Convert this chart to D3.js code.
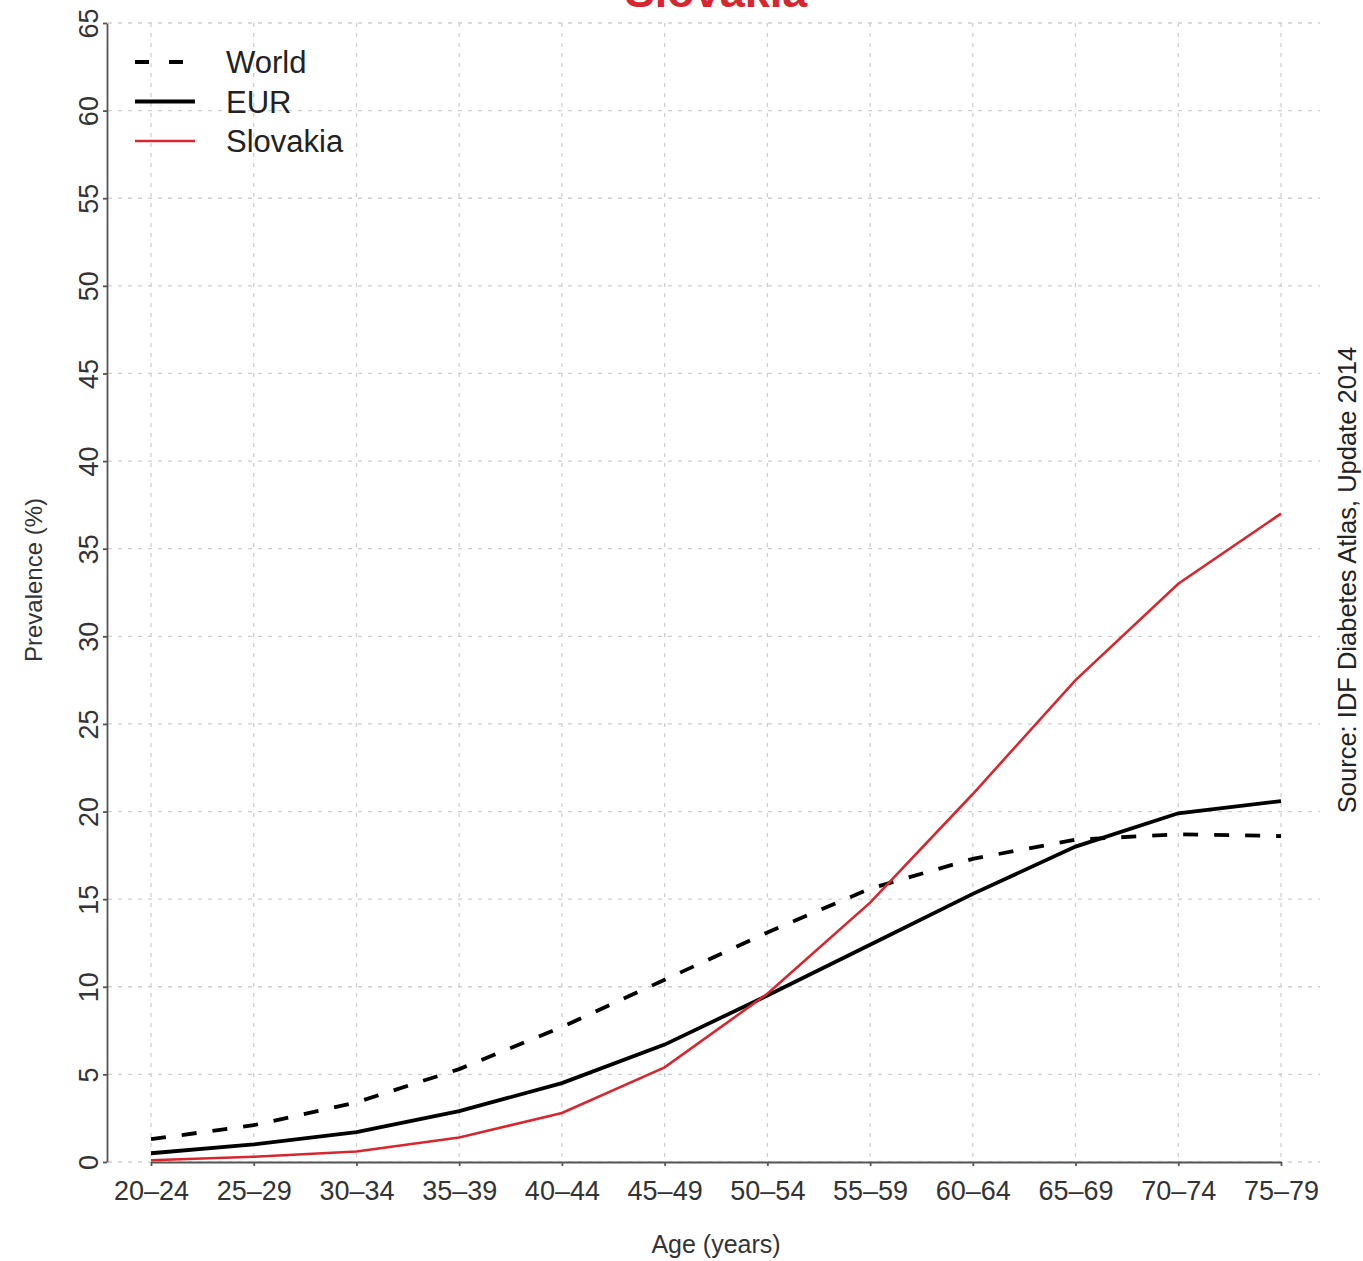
<!DOCTYPE html>
<html lang="en">
<head>
    <meta charset="UTF-8">
    <title>Slovakia - Diabetes prevalence by age</title>
    <style>
        body {
            margin: 0;
            background-color: #fff;
            font-family: "Liberation Sans", Arial, sans-serif;
        }

        .grid line {
            stroke: #cfcfcf;
            stroke-width: 1.3;
            stroke-dasharray: 4, 6;
        }

        .axis path, .axis line {
            stroke: #555;
            stroke-width: 1.8;
        }

        .axis text {
            font-size: 27px;
            fill: #333;
        }
    </style>
</head>
<body>
    <svg id="chart" width="1363" height="1261"></svg>

    <script src="https://d3js.org/d3.v7.min.js"></script>
    <script>
        const ageGroups = ["20\u201324", "25\u201329", "30\u201334", "35\u201339", "40\u201344", "45\u201349",
            "50\u201354", "55\u201359", "60\u201364", "65\u201369", "70\u201374", "75\u201379"];
        const world = [1.3, 2.1, 3.4, 5.3, 7.7, 10.4, 13.1, 15.6, 17.3, 18.4, 18.7, 18.6];
        const eur = [0.5, 1.0, 1.7, 2.9, 4.5, 6.7, 9.5, 12.4, 15.3, 18.0, 19.9, 20.6];
        const slovakia = [0.1, 0.3, 0.6, 1.4, 2.8, 5.4, 9.6, 14.8, 21.0, 27.5, 33.0, 37.0];
        const yTicks = [0, 5, 10, 15, 20, 25, 30, 35, 40, 45, 50, 55, 60, 65];

        const red = "#d8262f";
        const svg = d3.select("#chart");

        const x = d3.scalePoint().domain(ageGroups).range([151, 1281]);
        const y = d3.scaleLinear().domain([0, 65]).range([1162, 23]);

        // grid
        const grid = svg.append("g").attr("class", "grid");
        grid.selectAll(".h").data(yTicks).enter().append("line")
            .attr("x1", 108).attr("x2", 1320)
            .attr("y1", d => y(d)).attr("y2", d => y(d));
        grid.selectAll(".v").data(ageGroups).enter().append("line")
            .attr("x1", d => x(d)).attr("x2", d => x(d))
            .attr("y1", y(65)).attr("y2", y(0));

        // axes
        const yAxis = svg.append("g").attr("class", "axis")
            .attr("transform", "translate(107,0)")
            .call(d3.axisLeft(y).tickValues(yTicks).tickSize(4).tickSizeOuter(0));
        yAxis.selectAll("text")
            .attr("x", -9).attr("dy", 0)
            .attr("transform", "rotate(-90, -9, 0)")
            .attr("text-anchor", "middle");

        const xAxis = svg.append("g").attr("class", "axis")
            .attr("transform", "translate(0,1162)")
            .call(d3.axisBottom(x).tickSize(4).tickSizeOuter(0));
        xAxis.selectAll("text").attr("y", 38).attr("dy", 0);

        // lines
        const line = d3.line().x((d, i) => x(ageGroups[i])).y(d => y(d));

        svg.append("path").datum(world)
            .attr("fill", "none").attr("stroke", "#000").attr("stroke-width", 3.8)
            .attr("stroke-dasharray", "15,16")
            .attr("d", line);
        svg.append("path").datum(eur)
            .attr("fill", "none").attr("stroke", "#000").attr("stroke-width", 3.8)
            .attr("d", line);
        svg.append("path").datum(slovakia)
            .attr("fill", "none").attr("stroke", red).attr("stroke-width", 2.6)
            .attr("d", line);

        // legend
        const legendItems = [
            { name: "World", color: "#000", dash: "14,20", width: 3.8 },
            { name: "EUR", color: "#000", dash: null, width: 3.8 },
            { name: "Slovakia", color: red, dash: null, width: 2.6 }
        ];
        const legend = svg.append("g");
        legendItems.forEach((item, i) => {
            const ly = 62 + i * 39.5;
            legend.append("line")
                .attr("x1", 135).attr("x2", 195).attr("y1", ly).attr("y2", ly)
                .attr("stroke", item.color).attr("stroke-width", item.width)
                .attr("stroke-dasharray", item.dash);
            legend.append("text")
                .attr("x", 226).attr("y", ly + 11)
                .attr("font-size", "31px").attr("fill", "#222")
                .text(item.name);
        });

        // titles (title is cropped at the top edge, as in the source image)
        svg.append("text")
            .attr("x", 716).attr("y", 7)
            .attr("text-anchor", "middle")
            .attr("font-size", "45px").attr("font-weight", "bold").attr("fill", red)
            .text("Slovakia");

        svg.append("text")
            .attr("x", 716).attr("y", 1253)
            .attr("text-anchor", "middle")
            .attr("font-size", "25px").attr("fill", "#333")
            .text("Age (years)");

        svg.append("text")
            .attr("transform", "translate(42,580) rotate(-90)")
            .attr("text-anchor", "middle")
            .attr("font-size", "24px").attr("fill", "#333")
            .text("Prevalence (%)");

        svg.append("text")
            .attr("transform", "translate(1356,580) rotate(-90)")
            .attr("text-anchor", "middle")
            .attr("font-size", "25.5px").attr("fill", "#222")
            .text("Source: IDF Diabetes Atlas, Update 2014");
    </script>
</body>
</html>
